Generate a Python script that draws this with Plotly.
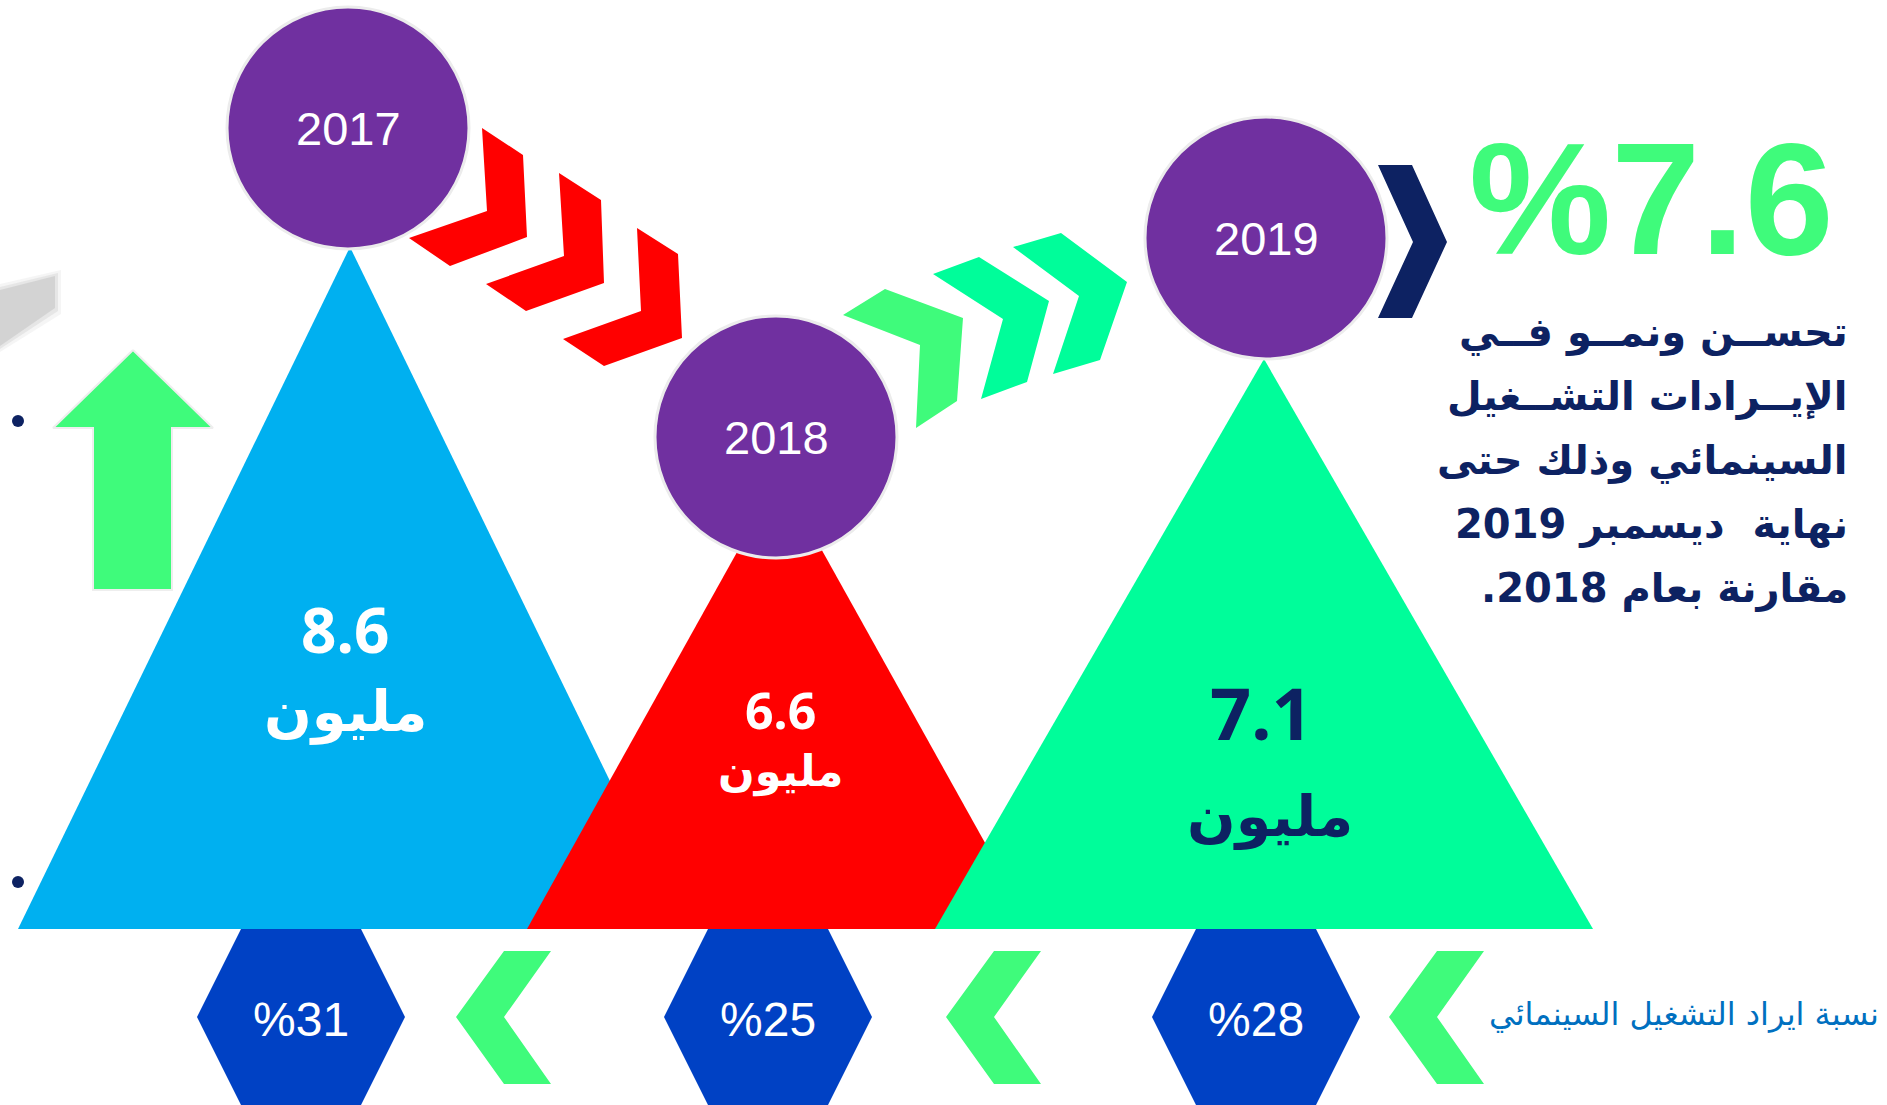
import plotly.graph_objects as go

years = ["2017", "2018", "2019"]
revenue = [8.6, 6.6, 7.1]            # مليون
cinema_share = [31, 25, 28]          # % of revenue from cinema operation
growth_pct = 7.6
unit_label = "مليون"
share_label = "نسبة ايراد التشغيل السينمائي"
note_lines = [
    "تحســن ونمــو فــي",
    "الإيــرادات التشــغيل",
    "السينمائي وذلك حتى",
    "نهاية  ديسمبر 2019",
    "مقارنة بعام 2018.\u200f",
]

COLORS = {
    'tri': ['#00b0f0', '#ff0000', '#00fd9a'],
    'value_text': ['#ffffff', '#ffffff', '#0d2262'],
    'circle': '#7030a0',
    'hex': '#0041c4',
    'green': '#3ffb7b',
    'green2': '#00fd9a',
    'red': '#ff0000',
    'navy': '#0d2262',
    'blue_text': '#0070c0',
}

# ---- page geometry (pixels, y downward) ----
W, H = 1887, 1105
BASE_Y = 929
circle_x = [348, 776, 1266]
circle_y = [128, 437, 238]
apex = [(350, 247), (780, 475), (1264, 359)]
half_base = [332, 253, 329]
value_pos = [(345, 629), (780, 710), (1261, 712)]
unit_pos = [(345, 712), (780, 771), (1270, 816)]
value_size = [62, 50, 72]
unit_size = [56, 43, 57]
hex_x = [301, 768, 1256]
HEX_Y = 1017

fig = go.Figure()


def poly(xs, ys, color, opacity=1.0, line=None):
    fig.add_trace(go.Scatter(
        x=list(xs) + [xs[0]], y=list(ys) + [ys[0]], mode='lines',
        fill='toself', fillcolor=color, opacity=opacity,
        line=dict(width=line[0], color=line[1]) if line else dict(width=0, color=color),
        hoverinfo='skip', showlegend=False))


# blurred grey shadow at the left edge
for grow, op in [(6, 0.15), (3, 0.25), (0, 0.45)]:
    poly([0, 55 + grow, 55 + grow, 0],
         [290 - grow, 276 - grow, 308 + grow, 346 + grow], '#bdbdbd', op)

# bullet dots
fig.add_trace(go.Scatter(x=[18, 18], y=[421, 882], mode='markers',
                         marker=dict(size=12, color=COLORS['navy']),
                         hoverinfo='skip', showlegend=False))

# up arrow
poly([133, 213, 172, 172, 93, 93, 53], [350, 428, 428, 590, 590, 428, 428],
     COLORS['green'], line=(2, '#eeeeee'))

# triangles, one per year
for i in range(len(years)):
    ax, ay = apex[i]
    poly([ax - half_base[i], ax, ax + half_base[i]], [BASE_Y, ay, BASE_Y], COLORS['tri'][i])

# year circles
fig.add_trace(go.Scatter(
    x=circle_x, y=circle_y, mode='markers',
    marker=dict(size=242, color=COLORS['circle'], line=dict(width=3, color='#ececec')),
    hoverinfo='skip', showlegend=False))

# red chevrons (decline 2017 -> 2018)
red_chev = [
    ([482, 523, 527, 450, 409, 487], [128, 155, 237, 266, 238, 211]),
    ([559, 601, 604, 526, 486, 564], [173, 200, 283, 311, 284, 256]),
    ([637, 678, 682, 604, 563, 641], [228, 254, 338, 366, 339, 311]),
]
for xs, ys in red_chev:
    poly(xs, ys, COLORS['red'])

# green chevrons (growth 2018 -> 2019)
poly([843, 885, 963, 957, 916, 920], [315, 289, 318, 401, 428, 345], COLORS['green'])
poly([933, 979, 1049, 1027, 981, 1003], [274, 257, 301, 382, 399, 319], COLORS['green2'])
poly([1013, 1061, 1127, 1100, 1053, 1079], [247, 233, 282, 360, 374, 296], COLORS['green2'])

# navy chevron before the growth figure
poly([1378, 1412, 1447, 1412, 1378, 1413], [165, 165, 242, 318, 318, 242], COLORS['navy'])

# hexagons with cinema share
for cx in hex_x:
    poly([cx - 104, cx - 60, cx + 60, cx + 104, cx + 60, cx - 60],
         [HEX_Y, HEX_Y - 88, HEX_Y - 88, HEX_Y, HEX_Y + 88, HEX_Y + 88], COLORS['hex'])

# small left-pointing chevrons between the hexagons
for dx in [0, 490, 933]:
    poly([504 + dx, 551 + dx, 504 + dx, 551 + dx, 504 + dx, 456 + dx],
         [951, 951, 1017, 1084, 1084, 1017], COLORS['green'])

annotations = []
for i, yr in enumerate(years):
    annotations.append(dict(x=circle_x[i], y=circle_y[i], text=yr,
                            font=dict(family='Liberation Sans, Arial', size=47, color='white')))
    annotations.append(dict(x=hex_x[i], y=HEX_Y + 2, text=f"%{cinema_share[i]}",
                            font=dict(family='Liberation Sans, Arial', size=48, color='white')))
    annotations.append(dict(x=value_pos[i][0], y=value_pos[i][1], text=f"<b>{revenue[i]}</b>",
                            font=dict(family='Noto Sans', size=value_size[i], color=COLORS['value_text'][i])))
    annotations.append(dict(x=unit_pos[i][0], y=unit_pos[i][1], text=f"<b>{unit_label}</b>",
                            font=dict(family='DejaVu Sans', size=unit_size[i], color=COLORS['value_text'][i])))

annotations.append(dict(x=1651, y=198, text=f"<b>%{growth_pct}</b>",
                        font=dict(family='Liberation Sans, Arial', size=160, color=COLORS['green'])))

for k, line in enumerate(note_lines):
    annotations.append(dict(x=1850, y=332 + 64 * k, text=f"<b>{line}</b>", xanchor='right',
                            font=dict(family='DejaVu Sans', size=40, color=COLORS['navy'])))

annotations.append(dict(x=1881, y=1014, text=share_label, xanchor='right',
                        font=dict(family='DejaVu Sans', size=32, color=COLORS['blue_text'])))

for a in annotations:
    a.update(xref='x', yref='y', showarrow=False)

fig.update_layout(
    width=W, height=H,
    margin=dict(l=0, r=0, t=0, b=0),
    plot_bgcolor='white', paper_bgcolor='white',
    xaxis=dict(range=[0, W], visible=False, fixedrange=True),
    yaxis=dict(range=[H, 0], visible=False, fixedrange=True),
    annotations=annotations,
    showlegend=False,
)

fig.write_html("out.html", config={'displayModeBar': False},
               post_script="document.body.style.margin='0';")
